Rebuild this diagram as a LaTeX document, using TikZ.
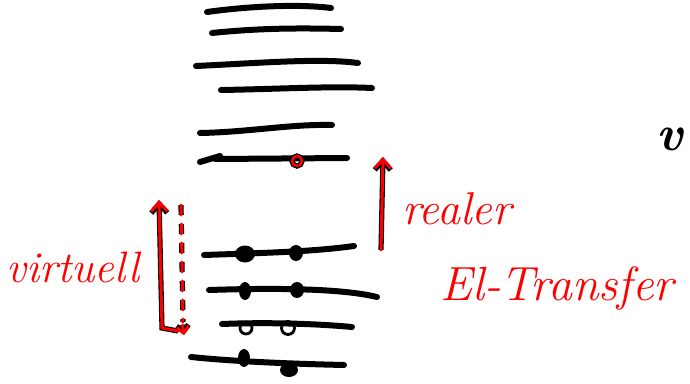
\documentclass[tikz,border=0pt]{standalone}
\usetikzlibrary{arrows.meta}
\begin{document}
\begin{tikzpicture}[x=1pt,y=-1pt,
  level/.style={line width=6pt,line cap=round},
  dotfill/.style={fill=black,draw=none},
  opendot/.style={draw=black,line width=2.8pt},
  redstroke/.style={preaction={draw=black,line width=5.2pt},draw=red,line width=3pt,line cap=round,line join=round},
  redtip/.style={-{Straight Barb[length=9pt,width=16pt]}},
  redtext/.style={text=red,font=\fontsize{44}{44}\selectfont\itshape,inner sep=0pt,anchor=base west},
  blacktext/.style={text=black,font=\fontsize{50}{50}\selectfont\bfseries\itshape,inner sep=0pt,anchor=base west}]
\useasboundingbox (0,0) rectangle (690,383);
% upper levels
\coordinate (l1a) at (207,12); \coordinate (l1b) at (331,8);
\coordinate (l2a) at (212,33); \coordinate (l2b) at (341,29);
\coordinate (l3a) at (196,66); \coordinate (l3b) at (358,63);
\coordinate (l4a) at (221,90); \coordinate (l4b) at (372,88);
\coordinate (l5a) at (200,133); \coordinate (l5b) at (332,125);
\coordinate (l6a) at (200,162); \coordinate (l6b) at (347,158);
\draw[level] (l1a) .. controls (250,6) and (300,4) .. (l1b);
\draw[level] (l2a) .. controls (260,28) and (300,28) .. (l2b);
\draw[level] (l3a) .. controls (260,63) and (320,58) .. (l3b);
\draw[level] (l4a) .. controls (280,89) and (330,86) .. (l4b);
\draw[level] (l5a) .. controls (250,132) and (290,124) .. (l5b);
\draw[level] (l6a) -- (220,156) (215,159) -- (l6b);
% lower levels
\coordinate (l7a) at (204,255); \coordinate (l7b) at (354,246);
\coordinate (l8a) at (209,290); \coordinate (l8b) at (377,297);
\coordinate (l9a) at (222,324); \coordinate (l9b) at (352,327);
\coordinate (l10a) at (191,357); \coordinate (l10b) at (344,365);
\draw[level] (l7a) .. controls (260,253) and (310,252) .. (l7b);
\draw[level] (l8a) .. controls (270,288) and (340,288) .. (l8b);
\draw[level] (l9a) .. controls (270,322) and (320,324) .. (l9b);
\draw[level] (l10a) .. controls (240,362) and (300,364) .. (l10b);
% electrons
\fill[dotfill] (245,254) ellipse (10pt and 8.5pt);
\fill[dotfill] (296,253) ellipse (7pt and 8pt);
\fill[dotfill] (245,291) ellipse (6pt and 9pt);
\fill[dotfill] (297,290) ellipse (7pt and 8pt);
\draw[opendot] (246,328) circle (6pt);
\draw[opendot] (288,328) circle (6.5pt);
\fill[dotfill] (244,358) ellipse (6pt and 9pt);
\fill[dotfill] (289,370) ellipse (9pt and 7pt);
% hole
\draw[redstroke,line width=2.5pt,preaction={draw=black,line width=4.5pt}] (297,161) circle (5pt);
% realer arrow
\coordinate (ra) at (381,250); \coordinate (rb) at (383,157);
\draw[redstroke,redtip] (ra) -- (rb);
% virtuell arrows
\coordinate (va) at (178,331); \coordinate (vb) at (162,328); \coordinate (vc) at (159,200);
\draw[redstroke,redtip] (va) -- (vb) -- (vc);
\coordinate (da) at (181,205); \coordinate (db) at (184,335);
\draw[draw=red,line width=3pt,line cap=round,dash pattern=on 10pt off 9pt,
  preaction={draw=black,line width=5.2pt,dash pattern=on 10pt off 9pt}] (da) -- (183,322);
\draw[redstroke,-{Straight Barb[length=6pt,width=12pt]}] (182.5,325) -- (db);
% texts
\node[redtext] (virt) at (6,282) {virtuell};
\node[redtext,font=\fontsize{46}{46}\selectfont\itshape] (real) at (402,224) {realer};
\node[redtext,font=\fontsize{48}{48}\selectfont\itshape] (elt) at (440,300) {El-Transfer};
\node[blacktext] (vv) at (656,150) {v};
\end{tikzpicture}
\end{document}
